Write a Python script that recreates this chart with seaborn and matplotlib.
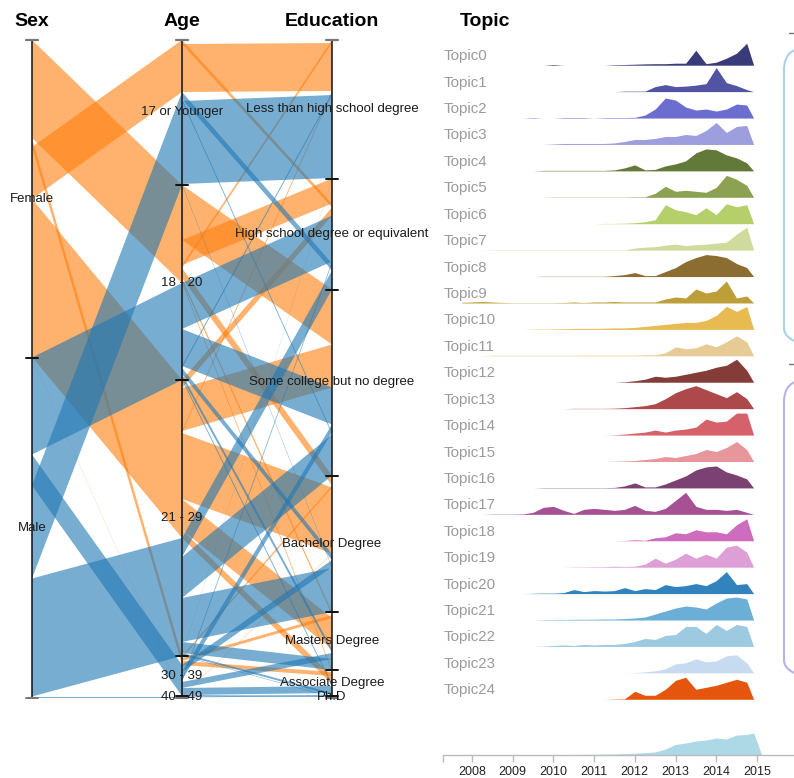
import numpy as np
import matplotlib
matplotlib.use("Agg")
import matplotlib.pyplot as plt
from matplotlib.patches import Polygon, FancyBboxPatch
import seaborn as sns

W, H = 794, 778

# ---------------- parallel sets data ----------------
sex_axis = ["Female", "Male"]
age_axis = ["17 or Younger", "18 - 20", "21 - 29", "30 - 39", "40 - 49"]
edu_axis = ["Less than high school degree", "High school degree or equivalent",
            "Some college but no degree", "Bachelor Degree", "Masters Degree",
            "Associate Degree", "Ph.D"]
age_ribbon_order = ["18 - 20", "30 - 39", "17 or Younger", "21 - 29", "40 - 49"]

LHS, HSD, SCD = edu_axis[0], edu_axis[1], edu_axis[2]
BAC, MAS, ASC, PHD = edu_axis[3], edu_axis[4], edu_axis[5], edu_axis[6]
A17, A18, A21, A30, A40 = age_axis

rec_sex = ["Female"] * 2 + ["Male"] * 4 + ["Female"] * 6 + ["Male"] * 6 + \
          ["Female"] * 6 + ["Male"] * 7 + ["Female"] * 3 + ["Male"] * 6 + \
          ["Female"] * 1 + ["Male"] * 2
rec_age = [A17] * 2 + [A17] * 4 + [A18] * 6 + [A18] * 6 + \
          [A21] * 6 + [A21] * 7 + [A30] * 3 + [A30] * 6 + [A40] * 1 + [A40] * 2
rec_edu = [HSD, LHS,
           HSD, SCD, LHS, BAC,
           SCD, HSD, LHS, BAC, MAS, ASC,
           HSD, SCD, LHS, BAC, MAS, ASC,
           HSD, SCD, LHS, BAC, MAS, ASC,
           HSD, SCD, BAC, MAS, ASC, LHS, PHD,
           BAC, MAS, ASC,
           BAC, SCD, HSD, MAS, ASC, PHD,
           BAC,
           ASC, PHD]
rec_n = [4, 48,
         7, 2, 83, 1,
         55, 25, 3, 10, 3, 2,
         46, 37, 2, 6, 4, 2,
         8, 43, 2, 66, 31, 8,
         19, 41, 44, 11, 2, 0.5, 0.5,
         2, 3, 4,
         7, 8, 2, 6, 7, 1,
         0.5,
         1, 0.5]

# ---------------- topic ridge data ----------------
quarters = [2007.75, 2008.0, 2008.25, 2008.5, 2008.75, 2009.0, 2009.25, 2009.5,
            2009.75, 2010.0, 2010.25, 2010.5, 2010.75, 2011.0, 2011.25, 2011.5,
            2011.75, 2012.0, 2012.25, 2012.5, 2012.75, 2013.0, 2013.25, 2013.5,
            2013.75, 2014.0, 2014.25, 2014.5, 2014.75, 2014.92]
topic0 = [0,0,0,0,0,0,0,0,0,0.7,0,0,0,0,0,0.5,0.7,1,1.3,1.5,1.5,2,2,15,1.5,3,7,12,22,0]
topic1 = [0,0,0,0,0,0,0,0,0,0,0,0,0,0,0,0,0.5,0.5,0.5,5,7,5,5.5,6.5,8,24,9,6,2,0]
topic2 = [0,0,0,0,0,0,0,0.5,0,0,0.5,0.5,0.5,0,0.5,0.5,0.5,0.7,3,9,20,18,11,8,9,7,9,14,13,0]
topic3 = [0,0,0,0,0,0,0,0,0,0.5,1,1,1,1,1,1.5,3,5,5,6,8,8,10,9,14,22,12,18,19,0]
topic4 = [0,0,0,0,0,0,0,0,0.5,0.5,0.5,0.5,0.5,0.5,0.5,1,3,6,1,1.5,5,7,10,18,22,21,16,13,8,0]
topic5 = [0,0,0,0,0,0,0,0,0,0.3,0.3,0.3,0.3,0.3,0.3,0.3,0.3,0.5,0.5,4,11,6,7,6,5,10,22,18,12,0]
topic6 = [0,0,0,0,0,0,0,0,0,0,0,0,0,0,0.3,0.3,0.5,1,2,4,19,14,12,9,16,9,20,17,19,0]
topic7 = [0,0,0,0.3,0.3,0.3,0.3,0.3,0.3,0.3,0.3,0.3,0.3,0.3,0.3,0.3,0.3,2,3,3.5,5,6,4.5,5.5,6,7,8,16,23,0]
topic8 = [0,0,0,0,0,0,0,0,0.3,0.3,0.3,0.3,0.3,0.3,0.3,1,2,4,1,1,5,9,15,19,22,21,19,13,9,0]
topic9 = [0.7,1,1.5,1,0.5,0.3,0.3,0.3,0.3,0.3,0.5,1,0.5,1,1,1.5,1,1,1,1,4,6,5,14,10,12,22,5,7,0]
topic10 = [0,0,0,0,0,0,0,0.3,0.3,0.5,0.7,1,1,1,1.2,1.5,1.5,2,3,4,5,6,7,7,9,14,23,18,23,0]
topic11 = [0,0,0,0.5,0.5,0.5,0.5,0.5,0.5,0.5,0.5,0.5,0.7,0.7,0.7,0.7,0.7,0.7,1,1,3,9,7,8,12,9,14,20,14,0]
topic12 = [0,0,0,0,0,0,0,0,0,0,0,0,0,0,0,0,0.5,1.5,3,6,5,6,8,10,12,15,17,23,12,0]
topic13 = [0,0,0,0,0,0,0,0,0,0,0,0.3,0.3,0.3,0.3,0.5,1,2,3,5,10,16,20,23,19,15,11,17,10,0]
topic14 = [0,0,0,0,0,0,0,0,0,0,0,0,0,0,0,0.3,1,2,3,5,3,5,6,8,16,13,14,22,22,0]
topic15 = [0,0,0,0,0,0,0,0,0,0,0,0,0,0,0,0.3,0.5,1,2,3,5,4,6,8,12,10,14,20,12,0]
topic16 = [0,0,0,0,0,0,0,0,0.3,0.3,0.3,0.3,0.3,0.3,0.3,0.5,2,5,1,1,4,8,12,18,21,22,16,13,9,0]
topic17 = [0,0,0,0.3,0.3,0.3,0.5,2,7,8,4,1,5,6,5,4,5,9,4,3,6,14,22,8,5,5,4,5,2,0]
topic18 = [0,0,0,0,0,0,0,0,0,0,0,0,0,0,0,0,0.3,1,0.5,3,4,8,7,11,9,9,7,16,22,0]
topic19 = [0,0,0,0,0,0,0,0,0,0,0,0.3,0.3,0.5,0.5,1,0.7,1,3,9,4,8,14,9,13,9,20,22,15,0]
topic20 = [0,0,0,0,0,0,0,0.3,0.5,0.5,1,4,2,3,2.5,3,6,3,5,4,9,7,8,10,8,13,22,9,10,0]
topic21 = [0,0,0,0,0,0,0,0,0.3,0.5,0.5,0.7,0.7,0.8,1,1,1.5,2,3,6,9,12,14,13,11,17,22,23,21,0]
topic22 = [0,0,0,0,0,0,0,0,0.3,1,1.5,1,2,1.5,2,2,3,5,8,7,11,12,20,20,13,22,16,22,20,0]
topic23 = [0,0,0,0,0,0,0,0,0,0,0,0,0,0,0,0,0,0.3,1,2,4,9,10,14,11,12,17,18,10,0]
topic24 = [0,0,0,0,0,0,0,0,0,0,0,0,0,0,0,0.3,0.5,8,4,4,10,19,22,10,12,14,17,20,17,0]
topic_series = [topic0, topic1, topic2, topic3, topic4, topic5, topic6, topic7, topic8,
                topic9, topic10, topic11, topic12, topic13, topic14, topic15, topic16,
                topic17, topic18, topic19, topic20, topic21, topic22, topic23, topic24]
topic_names = ["Topic%d" % i for i in range(25)]
topic_colors = ["#393b79", "#5254a3", "#6b6ecf", "#9c9ede", "#637939", "#8ca252",
                "#b5cf6b", "#cedb9c", "#8c6d31", "#bd9e39", "#e7ba52", "#e7cb94",
                "#843c39", "#ad494a", "#d6616b", "#e7969c", "#7b4173", "#a55194",
                "#ce6dbd", "#de9ed6", "#3182bd", "#6baed6", "#9ecae1", "#c6dbef",
                "#e6550d"]

overall_years = [2008.0, 2009.0, 2010.0, 2010.5, 2011.0, 2011.5, 2012.0, 2012.5,
                 2012.75, 2013.0, 2013.25, 2013.5, 2013.75, 2014.0, 2014.25, 2014.5,
                 2014.75, 2014.92, 2015.12]
overall_vals = [0.3, 0.3, 0.3, 0.5, 0.7, 1, 1.7, 3, 6, 10.5, 12, 14, 15, 17, 16, 20, 20.5, 22, 0]
year_ticks = [2008, 2009, 2010, 2011, 2012, 2013, 2014, 2015]

# ---------------- style ----------------
sns.set_theme(style="white")
plt.rcParams["font.family"] = ["Liberation Sans", "DejaVu Sans"]
sex_palette = dict(zip(sex_axis, sns.color_palette(["#ff7f0e", "#1f77b4"])))
ridge_palette = sns.color_palette(topic_colors)

fig = plt.figure(figsize=(W / 100, H / 100), dpi=100)
fig.patch.set_facecolor("white")


def px_axes(x0, y0, x1, y1, z=1):
    a = fig.add_axes([x0 / W, 1 - y1 / H, (x1 - x0) / W, (y1 - y0) / H], zorder=z)
    a.patch.set_alpha(0)
    return a


# ---------------- parallel sets layout ----------------
n_rec = len(rec_n)
total = float(sum(rec_n))
ax = px_axes(32, 40, 332, 698)
ax.set_xlim(0, 2)
ax.set_ylim(total, 0)
ax.axis("off")

sex_span = {}
cur = 0.0
sex_bounds = []
for s in sex_axis:
    start = cur
    for a in age_ribbon_order:
        v = sum(rec_n[i] for i in range(n_rec) if rec_sex[i] == s and rec_age[i] == a)
        sex_span[(s, a)] = (cur, cur + v)
        cur += v
    sex_bounds.append((s, start, cur))

age_node = {}
rec_age_span = {}
cur = 0.0
age_bounds = []
for a in age_axis:
    start = cur
    for s in sex_axis:
        nstart = cur
        for i in range(n_rec):
            if rec_sex[i] == s and rec_age[i] == a:
                rec_age_span[i] = (cur, cur + rec_n[i])
                cur += rec_n[i]
        age_node[(s, a)] = (nstart, cur)
    age_bounds.append((a, start, cur))

rec_edu_span = {}
cur = 0.0
edu_bounds = []
for e in edu_axis:
    start = cur
    idx = [i for i in range(n_rec) if rec_edu[i] == e]
    idx.sort(key=lambda i: (sex_axis.index(rec_sex[i]), age_ribbon_order.index(rec_age[i]), i))
    for i in idx:
        rec_edu_span[i] = (cur, cur + rec_n[i])
        cur += rec_n[i]
    edu_bounds.append((e, start, cur))

for s in sex_axis:
    col = sex_palette[s]
    for a in age_ribbon_order:
        s0, s1 = sex_span[(s, a)]
        a0, a1 = age_node[(s, a)]
        if s1 - s0 <= 0:
            continue
        ax.add_patch(Polygon([(0, s0), (1, a0), (1, a1), (0, s1)], closed=True,
                             facecolor=col, alpha=0.6, lw=0))
for s in sex_axis:
    col = sex_palette[s]
    for i in range(n_rec):
        if rec_sex[i] != s:
            continue
        a0, a1 = rec_age_span[i]
        e0, e1 = rec_edu_span[i]
        ax.add_patch(Polygon([(1, a0), (2, e0), (2, e1), (1, a1)], closed=True,
                             facecolor=col, alpha=0.6, lw=0))

tick_hw = 6 / 150.0
for d, bounds in enumerate([sex_bounds, age_bounds, edu_bounds]):
    ax.plot([d, d], [0, total], color="#111111", lw=1.1, zorder=5, clip_on=False)
    ax.plot([d - tick_hw, d + tick_hw], [0, 0], color="#777777", lw=1.6, zorder=5, clip_on=False)
    for k, (name, b0, b1) in enumerate(bounds):
        col = "#777777" if k == len(bounds) - 1 else "#111111"
        ax.plot([d - tick_hw, d + tick_hw], [b1, b1], color=col, lw=1.4, zorder=5, clip_on=False)
        ax.text(d, (b0 + b1) / 2, name, ha="center", va="center", fontsize=9.5,
                color="#1a1a1a", zorder=6)

for d, title in enumerate(["Sex", "Age", "Education"]):
    ax.text(d, -19 * total / 658, title, ha="center", va="center", fontsize=14,
            fontweight="bold", color="black")

# ---------------- ridges ----------------
px_per_year = 40.7
x2008 = 472.0
axr = px_axes(430, 0, 794, 778)
axr.set_xlim(2008 - (x2008 - 430) / px_per_year, 2008 + (794 - x2008) / px_per_year)
axr.set_ylim(778, 0)
axr.axis("off")
row0, row_gap = 65.2, 26.42
for i, name in enumerate(topic_names):
    base = row0 + i * row_gap
    vals = np.asarray(topic_series[i], dtype=float)
    axr.fill_between(quarters, base, base - vals, color=ridge_palette[i], lw=0)
    axr.text(2008 - (x2008 - 444) / px_per_year, base - 9, name, ha="left", va="center",
             fontsize=10.8, color="#9a9a9a")
axr.text(2008 - (x2008 - 485) / px_per_year, 21, "Topic", ha="center", va="center",
         fontsize=14, fontweight="bold", color="black")

# ---------------- overall timeline ----------------
axb = px_axes(443, 725, 794, 755)
axb.set_xlim(2008 - (x2008 - 443) / px_per_year, 2008 + (794 - x2008) / px_per_year)
axb.set_ylim(0, 30)
axb.fill_between(overall_years, 0, overall_vals, color="#add8e6", lw=0)
sns.despine(ax=axb, left=True, top=True, right=True)
axb.spines["bottom"].set_color("#bbbbbb")
axb.spines["bottom"].set_linewidth(1.0)
axb.set_yticks([])
axb.set_xticks([axb.get_xlim()[0]] + year_ticks)
axb.set_xticklabels([""] + [str(y) for y in year_ticks])
axb.tick_params(axis="x", direction="out", length=5, width=1, color="#bbbbbb",
                labelsize=9, labelcolor="#222222", pad=3, bottom=True)
axb.grid(False)

# ---------------- side panels (partially visible) ----------------
axo = px_axes(0, 0, W, H, z=0)
axo.set_xlim(0, W)
axo.set_ylim(H, 0)
axo.axis("off")
axo.add_patch(FancyBboxPatch((784, 48), 100, 302, boxstyle="round,pad=0,rounding_size=22",
                             fill=False, ec="#a9d2e8", lw=1.5))
axo.add_patch(FancyBboxPatch((784, 380), 100, 302, boxstyle="round,pad=0,rounding_size=22",
                             fill=False, ec="#b8b3e6", lw=1.5))
axo.plot([789, 795], [33, 33], color="#777777", lw=1)
axo.plot([789, 795], [364, 364], color="#777777", lw=1)

fig.savefig("out.png", dpi=100, facecolor="white")
